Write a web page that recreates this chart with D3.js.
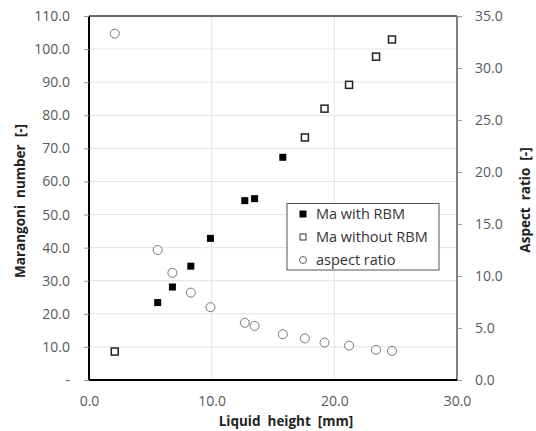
<!DOCTYPE html>
<html>
<head>
<meta charset="utf-8">
<script src="https://cdn.jsdelivr.net/npm/d3@7"></script>
<style>
  body { margin: 0; background: #fff; }
  text { font-family: "Open Sans", sans-serif; white-space: pre; }
</style>
</head>
<body>
<script>
// data
var heightWith = [5.6, 6.8, 8.3, 9.9, 12.7, 13.5, 15.8];
var maWith = [23.4, 28.1, 34.4, 42.8, 54.2, 54.8, 67.3];
var heightWithout = [2.1, 17.6, 19.2, 21.2, 23.4, 24.7];
var maWithout = [8.6, 73.3, 82.0, 89.2, 97.7, 102.9];
var heightAll = [2.1, 5.6, 6.8, 8.3, 9.9, 12.7, 13.5, 15.8, 17.6, 19.2, 21.2, 23.4, 24.7];
var aspect = [33.3, 12.5, 10.3, 8.4, 7.0, 5.5, 5.2, 4.4, 4.0, 3.6, 3.3, 2.9, 2.8];
var xTicks = [0, 10, 20, 30];
var yTicks = [0, 10, 20, 30, 40, 50, 60, 70, 80, 90, 100, 110];
var y2Ticks = [0, 5, 10, 15, 20, 25, 30, 35];
var legendLabels = ["Ma with RBM", "Ma without RBM", "aspect ratio"];

var W = 536, H = 431;
var plotL = 89, plotR = 457, plotT = 16, plotB = 380;

var svg = d3.select("body").append("svg").attr("width", W).attr("height", H);

var x = d3.scaleLinear().domain([0, 30]).range([plotL, plotR]);
var y = d3.scaleLinear().domain([0, 110]).range([plotB, plotT]);
var y2 = d3.scaleLinear().domain([0, 35]).range([plotB, plotT]);

//gridlines
svg.append("g").selectAll("line").data(yTicks.slice(1, -1)).enter().append("line")
  .attr("x1", plotL).attr("x2", plotR)
  .attr("y1", function(d) { return y(d); }).attr("y2", function(d) { return y(d); })
  .style("stroke", "#e3e3e3").style("stroke-width", 1);
svg.append("g").selectAll("line").data(xTicks.slice(1, -1)).enter().append("line")
  .attr("y1", plotT).attr("y2", plotB)
  .attr("x1", function(d) { return x(d); }).attr("x2", function(d) { return x(d); })
  .style("stroke", "#e3e3e3").style("stroke-width", 1);

//frame
svg.append("line").attr("x1", plotL).attr("x2", plotR).attr("y1", plotT).attr("y2", plotT)
  .style("stroke", "#333").style("stroke-width", 1.5);

//axes
var fmt = function(d) { return d === 0 ? "-" : d3.format(".1f")(d); };
var yAxis = svg.append("g").attr("transform", "translate(" + plotL + ",0)")
  .call(d3.axisLeft(y).tickValues(yTicks).tickFormat(fmt).tickSize(5).tickPadding(14));
var y2Axis = svg.append("g").attr("transform", "translate(" + plotR + ",0)")
  .call(d3.axisRight(y2).tickValues(y2Ticks).tickFormat(d3.format(".1f")).tickSize(5).tickPadding(13));
var xAxis = svg.append("g").attr("transform", "translate(0," + plotB + ")")
  .call(d3.axisBottom(x).tickValues(xTicks).tickFormat(d3.format(".1f")).tickSize(0).tickPadding(16));

[yAxis, y2Axis, xAxis].forEach(function(a) {
  a.selectAll("text").style("font-size", "14px").style("fill", "#595959");
  a.selectAll(".tick line").style("stroke", "#999");
  a.select(".domain").attr("d", null);
});
yAxis.select(".domain").attr("d", "M0," + plotT + "V" + plotB).style("stroke", "#000").style("stroke-width", 2);
xAxis.select(".domain").attr("d", "M" + plotL + ",0H" + plotR).style("stroke", "#000").style("stroke-width", 2);
y2Axis.select(".domain").attr("d", "M0," + plotT + "V" + plotB).style("stroke", "#555").style("stroke-width", 1.5);

//axis titles
svg.append("text").attr("transform", "translate(25,201) rotate(-90)")
  .attr("text-anchor", "middle").style("font-size", "13.5px").style("font-weight", "bold").style("fill", "#222")
  .text("Marangoni  number  [-]");
svg.append("text").attr("transform", "translate(530,200) rotate(-90)")
  .attr("text-anchor", "middle").style("font-size", "13.5px").style("font-weight", "bold").style("fill", "#222")
  .text("Aspect  ratio  [-]");
svg.append("text").attr("x", 286).attr("y", 426)
  .attr("text-anchor", "middle").style("font-size", "13.5px").style("font-weight", "bold").style("fill", "#222")
  .text("Liquid  height  [mm]");

//markers
var sq = 7;
svg.append("g").selectAll("rect").data(heightWith).enter().append("rect")
  .attr("x", function(d) { return x(d) - sq / 2; })
  .attr("y", function(d, i) { return y(maWith[i]) - sq / 2; })
  .attr("width", sq).attr("height", sq)
  .style("fill", "#000");
svg.append("g").selectAll("rect").data(heightWithout).enter().append("rect")
  .attr("x", function(d) { return x(d) - sq / 2; })
  .attr("y", function(d, i) { return y(maWithout[i]) - sq / 2; })
  .attr("width", sq).attr("height", sq)
  .style("fill", "#fff").style("stroke", "#222").style("stroke-width", 1.5);
svg.append("g").selectAll("circle").data(heightAll).enter().append("circle")
  .attr("cx", function(d) { return x(d); })
  .attr("cy", function(d, i) { return y2(aspect[i]); })
  .attr("r", 4.5)
  .style("fill", "#fff").style("stroke", "#777").style("stroke-width", 1);

//legend
var lg = svg.append("g");
lg.append("rect").attr("x", 287).attr("y", 203.5).attr("width", 152).attr("height", 66.5)
  .style("fill", "#fff").style("stroke", "#555").style("stroke-width", 1);
var rows = [214, 237, 260];
lg.append("rect").attr("x", 299.5).attr("y", rows[0] - 3.5).attr("width", 7).attr("height", 7).style("fill", "#000");
lg.append("rect").attr("x", 300).attr("y", rows[1] - 3).attr("width", 6).attr("height", 6)
  .style("fill", "#fff").style("stroke", "#333").style("stroke-width", 1);
lg.append("circle").attr("cx", 303).attr("cy", rows[2]).attr("r", 3.5)
  .style("fill", "#fff").style("stroke", "#666").style("stroke-width", 1);
lg.selectAll("text.lab").data(legendLabels).enter().append("text")
  .attr("class", "lab")
  .attr("x", 316).attr("y", function(d, i) { return rows[i] + 5; })
  .style("font-size", "14.5px").style("fill", "#333")
  .text(function(d) { return d; });
</script>
</body>
</html>
